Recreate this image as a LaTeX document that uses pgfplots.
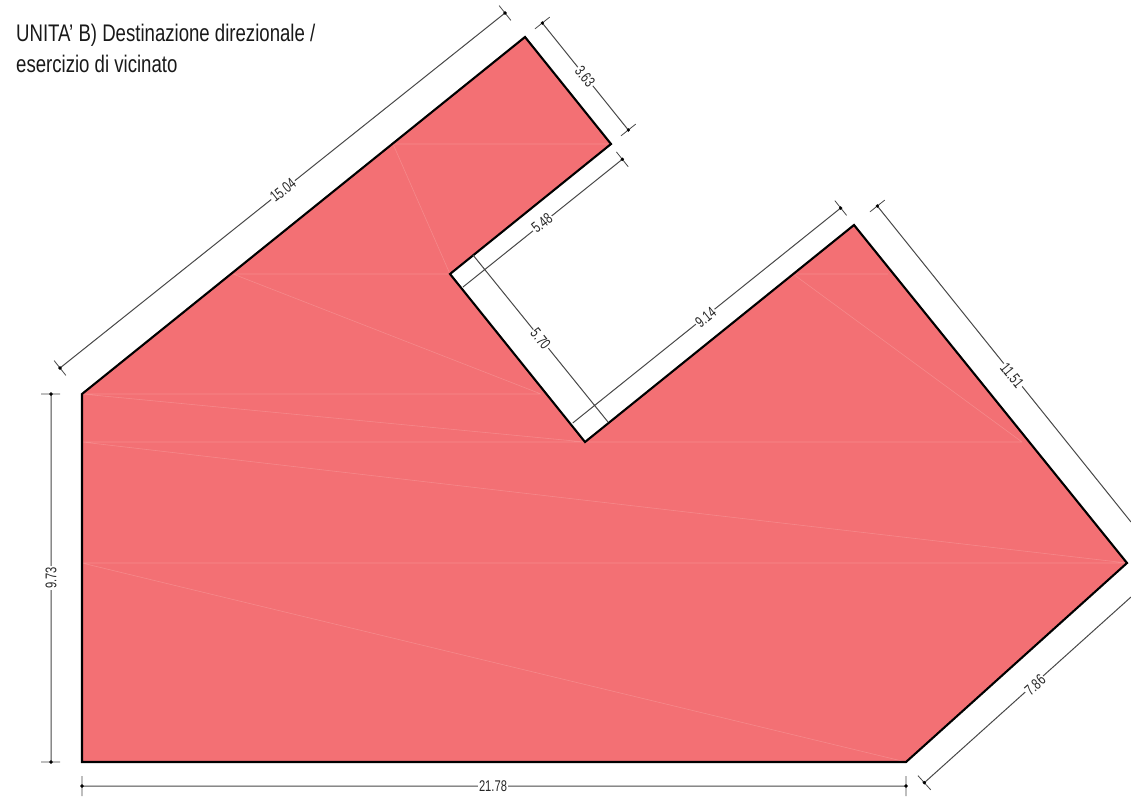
\documentclass[border=0pt]{standalone}
\usepackage{fontspec}
\setmainfont{Liberation Sans}
\usepackage{pgfplots}
\pgfplotsset{compat=1.18}
\definecolor{unita}{HTML}{F37074}
\definecolor{seam}{HTML}{F68A8C}
\definecolor{dimgrey}{HTML}{484848}
\newcommand{\dimtext}[1]{\scalebox{0.72}[1]{\fontsize{15.5}{15.5}\selectfont #1}}
\newcommand{\titletext}[1]{\scalebox{0.775}[1]{\fontsize{24}{24}\selectfont #1}}
\begin{document}
\begin{tikzpicture}
\begin{axis}[
  scale only axis,
  width=1131pt, height=803pt,
  xmin=0, xmax=1131, ymin=0, ymax=803,
  y dir=reverse,
  hide axis,
  unbounded coords=jump,
  clip=true,
  dimline/.style={dimgrey, line width=1pt, no markers},
  seamline/.style={seam, line width=0.55pt, no markers},
]
% keep the whole sheet in the page
\path (axis cs:0,0) -- (axis cs:1131,803);
% room outline
\addplot[fill=unita, draw=none, no markers] coordinates {
  (82,394) (525,37) (611,144) (450,274) (585,442) (854,225) (1127,563) (906,762) (82,762)
} -- cycle;
% triangulation seams
\addplot[seamline] coordinates {
  (393,144) (611,144) (nan,nan)
  (233,274) (450,274) (nan,nan)
  (82,394) (541,394) (nan,nan)
  (82,442) (1022,442) (nan,nan)
  (82,563) (1127,563) (nan,nan)
  (793,274) (888,274) (nan,nan)
  (393,144) (450,274) (nan,nan)
  (233,274) (541,394) (nan,nan)
  (82,394) (585,442) (nan,nan)
  (82,442) (1127,563) (nan,nan)
  (82,563) (906,762) (nan,nan)
  (793,274) (1022,442)
};
\addplot[draw=black, line width=2.1pt, no markers, line join=miter] coordinates {
  (82,394) (525,37) (611,144) (450,274) (585,442) (854,225) (1127,563) (906,762) (82,762)
} -- cycle;
% dimension lines
\addplot[dimline] coordinates {
  (60,368) (505,13) (nan,nan)
  (542.3,23) (628.3,130) (nan,nan)
  (622.3,159.3) (463,287) (nan,nan)
  (473,255) (608,422) (nan,nan)
  (840.7,208) (572.7,423) (nan,nan)
  (877.3,206) (1131,522) (nan,nan)
  (924.3,782.7) (1131,597) (nan,nan)
  (51,394) (51,762) (nan,nan)
  (82,786) (906,786)
};
% end ticks
\addplot[dimline, line width=0.8pt] coordinates {
  (54.1,360.6) (65.9,375.4) (nan,nan)
  (499.1,5.6) (510.9,20.4) (nan,nan)
  (534.9,28.9) (549.7,17.1) (nan,nan)
  (620.9,135.9) (635.7,124.1) (nan,nan)
  (616.4,151.9) (628.2,166.7) (nan,nan)
  (834.8,200.6) (846.6,215.4) (nan,nan)
  (869.9,211.9) (884.7,200.1) (nan,nan)
  (917.9,775.6) (930.7,789.8) (nan,nan)
  (41,394) (60,394) (nan,nan)
  (41,762) (60,762) (nan,nan)
  (82,776) (82,796) (nan,nan)
  (906,776) (906,796)
};
\addplot[only marks, mark=*, mark size=1.5pt, black] coordinates {
  (60,368) (505,13) (542.3,23) (628.3,130) (622.3,159.3) (840.7,208)
  (877.3,206) (924.3,782.7) (51,394) (51,762) (82,786) (906,786)
};
% dimension labels
\tikzset{dimlabel/.style={fill=white, inner sep=1pt, text=black!85}}
\node[dimlabel, rotate=38.8] at (axis cs:283,190) {\dimtext{15.04}};
\node[dimlabel, rotate=-51.2] at (axis cs:585,76.7) {\dimtext{3.63}};
\node[dimlabel, rotate=38.8] at (axis cs:542,223) {\dimtext{5.48}};
\node[dimlabel, rotate=-51.2] at (axis cs:540.7,339) {\dimtext{5.70}};
\node[dimlabel, rotate=38.8] at (axis cs:705.7,317.3) {\dimtext{9.14}};
\node[dimlabel, rotate=-51.2] at (axis cs:1012,375.7) {\dimtext{11.51}};
\node[dimlabel, rotate=42] at (axis cs:1035,685) {\dimtext{7.86}};
\node[dimlabel, rotate=90] at (axis cs:51,578) {\dimtext{9.73}};
\node[dimlabel] at (axis cs:493,786) {\dimtext{21.78}};
% title
\node[anchor=base west, inner sep=0pt, text=black!90] at (axis cs:16,41) {\titletext{UNITA' B) Destinazione direzionale /}};
\node[anchor=base west, inner sep=0pt, text=black!90] at (axis cs:16,72.5) {\titletext{esercizio di vicinato}};
\end{axis}
\end{tikzpicture}
\end{document}
